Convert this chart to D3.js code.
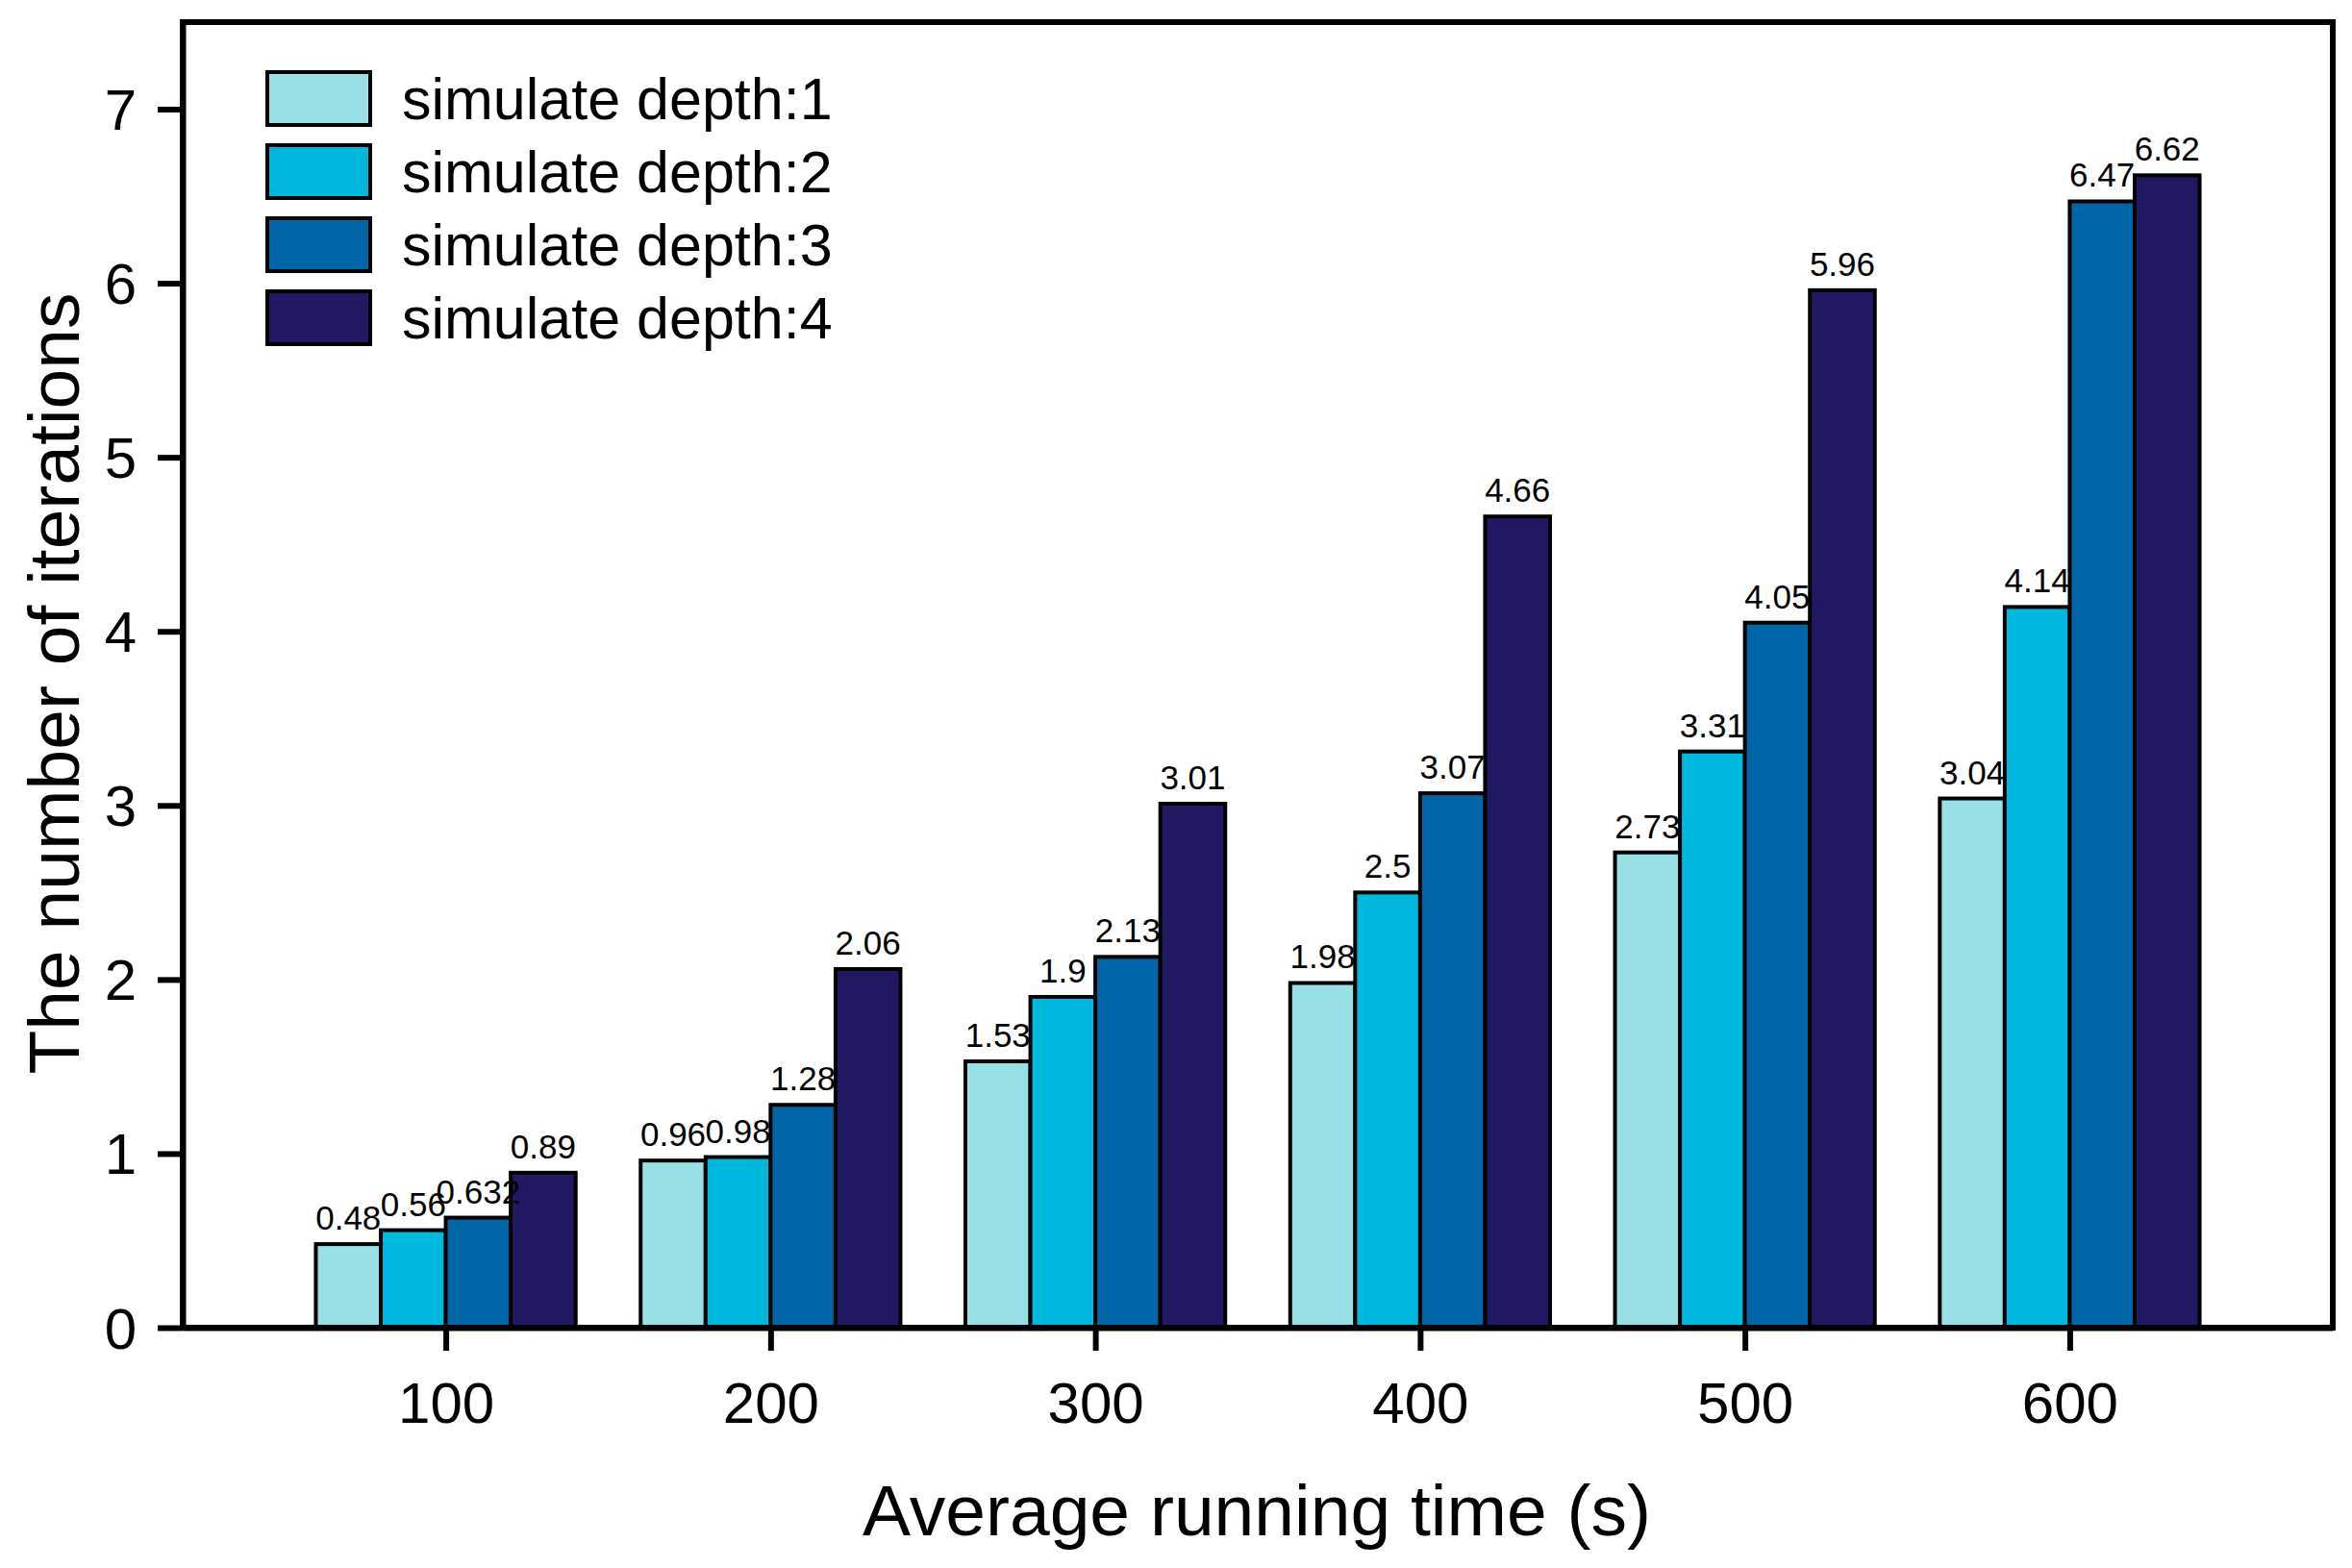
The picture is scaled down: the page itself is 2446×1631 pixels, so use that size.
<!DOCTYPE html>
<html lang="en">
<head>
	<meta charset="UTF-8">
	<title>bar chart</title>
	<script src="https://d3js.org/d3.v7.min.js"></script>
	<style>
		body { margin: 0; background: #fff; }
		text { font-family: "Liberation Sans", Arial, sans-serif; }
	</style>
</head>
<body>
	<script type="text/javascript">
		// data
		var times = [100, 200, 300, 400, 500, 600];
		var seriesNames = ["simulate depth:1", "simulate depth:2", "simulate depth:3", "simulate depth:4"];
		var depth1 = [0.48, 0.96, 1.53, 1.98, 2.73, 3.04];
		var depth2 = [0.56, 0.98, 1.9, 2.5, 3.31, 4.14];
		var depth3 = [0.632, 1.28, 2.13, 3.07, 4.05, 6.47];
		var depth4 = [0.89, 2.06, 3.01, 4.66, 5.96, 6.62];
		var yTicks = [0, 1, 2, 3, 4, 5, 6, 7];
		var colors = ["#98e0e6", "#00b7de", "#0066a8", "#211962"];

		var series = [depth1, depth2, depth3, depth4];

		var w = 2446;
		var h = 1631;
		var padL = 190, padR = 2426, padT = 23, padB = 1381;

		var svg = d3.select("body").append("svg").attr("width", w).attr("height", h);

		var xScale = d3.scaleLinear().domain([19, 681]).range([padL, padR]);
		var yScale = d3.scaleLinear().domain([0, 7.5]).range([padB, padT]);

		var step = xScale(200) - xScale(100);
		var inner = d3.scaleBand().domain(d3.range(series.length)).range([-0.4 * step, 0.4 * step]);

		// bars
		var flat = [];
		series.forEach(function(s, si) {
			s.forEach(function(v, i) {
				flat.push({s: si, t: times[i], v: v});
			});
		});

		svg.append("g").selectAll("rect")
			.data(flat)
			.enter()
			.append("rect")
			.attr("x", function(d) { return xScale(d.t) + inner(d.s); })
			.attr("y", function(d) { return yScale(d.v); })
			.attr("width", inner.bandwidth())
			.attr("height", function(d) { return yScale(0) - yScale(d.v); })
			.attr("fill", function(d) { return colors[d.s]; })
			.attr("stroke", "#000")
			.attr("stroke-width", 4);

		// value labels
		svg.append("g").selectAll("text")
			.data(flat)
			.enter()
			.append("text")
			.text(function(d) { return d.v; })
			.attr("text-anchor", "middle")
			.attr("x", function(d) { return xScale(d.t) + inner(d.s) + inner.bandwidth() / 2; })
			.attr("y", function(d) { return yScale(d.v) - 15; })
			.attr("font-size", "35px")
			.attr("fill", "#000");

		// frame
		svg.append("rect")
			.attr("x", padL).attr("y", padT)
			.attr("width", padR - padL).attr("height", padB - padT)
			.attr("fill", "none").attr("stroke", "#000").attr("stroke-width", 6);

		// axes
		var yAxis = svg.append("g")
			.attr("transform", "translate(" + padL + ",0)")
			.call(d3.axisLeft(yScale).tickValues(yTicks).tickSize(26).tickSizeOuter(0).tickPadding(22));
		var xAxis = svg.append("g")
			.attr("transform", "translate(0," + padB + ")")
			.call(d3.axisBottom(xScale).tickValues(times).tickSize(24).tickSizeOuter(0).tickPadding(32));

		[yAxis, xAxis].forEach(function(a) {
			a.selectAll("path").attr("stroke-width", 6);
			a.selectAll("line").attr("stroke-width", 6);
			a.selectAll("text").attr("font-size", "60px").attr("font-family", "Liberation Sans, Arial, sans-serif");
		});
		yAxis.selectAll("text").attr("dy", "0.35em");

		// axis titles
		svg.append("text")
			.text("Average running time (s)")
			.attr("x", 1307).attr("y", 1597)
			.attr("text-anchor", "middle")
			.attr("font-size", "75px");

		svg.append("text")
			.text("The number of iterations")
			.attr("transform", "translate(82," + 711 + ") rotate(-90)")
			.attr("text-anchor", "middle")
			.attr("font-size", "75px");

		// legend
		var legend = svg.append("g").selectAll("g")
			.data(seriesNames)
			.enter()
			.append("g")
			.attr("transform", function(d, i) { return "translate(278," + (75 + i * 76) + ")"; });

		legend.append("rect")
			.attr("width", 107).attr("height", 55)
			.attr("fill", function(d, i) { return colors[i]; })
			.attr("stroke", "#000").attr("stroke-width", 4);

		legend.append("text")
			.text(function(d) { return d; })
			.attr("x", 140).attr("y", 49)
			.attr("font-size", "61px");
	</script>
</body>
</html>
